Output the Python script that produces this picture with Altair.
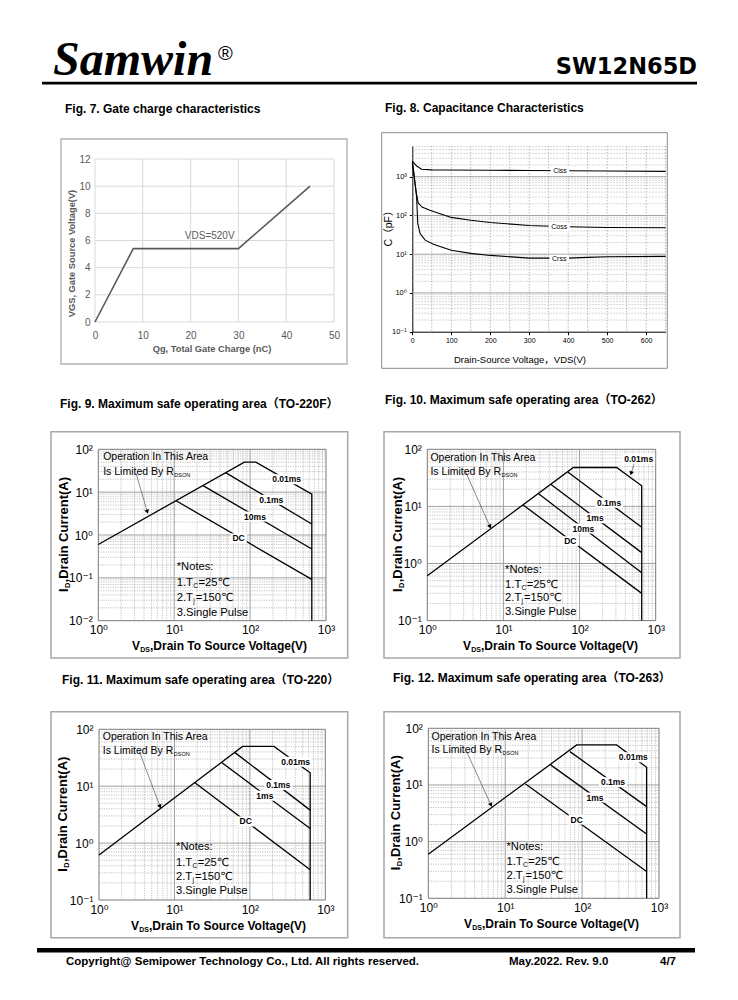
import math
import altair as alt
import pandas as pd

# ================= values =================
# Fig. 7  gate charge
f7_qg = [0, 8, 30, 45]
f7_vgs = [0, 5.4, 5.4, 10]
f7_note = ["VDS=520V"]
f7_note_q = [24]
f7_note_v = [6.3]

# Fig. 8  capacitance
f8_ciss_v = [0, 5, 11, 24, 50, 88, 200, 300, 400, 500, 650]
f8_ciss_c = [2500, 2200, 1890, 1550, 1500, 1490, 1470, 1450, 1430, 1400, 1370]
f8_coss_v = [0, 3, 6, 10, 15, 25, 45, 100, 150, 200, 300, 400, 500, 650]
f8_coss_c = [2500, 1500, 800, 400, 210, 165, 137, 89, 75, 66, 55, 51, 49, 48]
f8_crss_v = [0, 4, 7, 11, 14, 20, 33, 54, 100, 150, 200, 300, 400, 450, 500, 650]
f8_crss_c = [2200, 1200, 670, 305, 62, 34, 23, 18, 12.7, 10.5, 9.3, 7.9, 7.9, 8.3, 8.6, 8.8]
f8_lab = ["Ciss", "Coss", "Crss"]
f8_lab_v = [379, 377, 377]
f8_lab_c = [1430, 50, 7.6]

# Fig. 9  SOA TO-220F
f9_001_v, f9_001_i = [1, 84, 119, 650, 650], [0.6, 50, 50, 9.0, 0.01]
f9_01_v, f9_01_i = [47.6, 650], [28.5, 1.8]
f9_10_v, f9_10_i = [24, 650], [14.2, 0.47]
f9_dc_v, f9_dc_i = [10.6, 650], [6.3, 0.092]
f9_lab = ["0.01ms", "0.1ms", "10ms", "DC"]
f9_lab_v = [303, 190, 116, 70.6]
f9_lab_i = [20, 6.6, 2.7, 0.83]
f9_arr_v, f9_arr_i = [3.14, 4.42], [27.5, 3.5]
f9_op_v, f9_op_i = 1.16, [65, 30]
f9_note_v, f9_note_i = 10.8, [0.176, 0.0745, 0.033, 0.0154]

# Fig. 10  SOA TO-262
f10_001_v, f10_001_i = [1, 83, 307, 655, 655], [0.61, 48, 48, 23, 0.1]
f10_01_v, f10_01_i = [70, 655], [40, 4.3]
f10_1_v, f10_1_i = [41.8, 655], [24.4, 1.55]
f10_10_v, f10_10_i = [28.7, 655], [16.8, 0.69]
f10_dc_v, f10_dc_i = [18.3, 655], [10.5, 0.30]
f10_lab = ["0.01ms", "0.1ms", "1ms", "10ms", "DC"]
f10_lab_v = [598, 244, 160, 112, 75.7]
f10_lab_i = [66.8, 11.6, 6.2, 4.1, 2.45]
f10_arr_v, f10_arr_i = [3.13, 6.66], [42.3, 4.43]
f10_arr2_v, f10_arr2_i = [525, 475], [56.9, 38]
f10_op_v, f10_op_i = 1.1, [69.5, 39.5]
f10_note_v, f10_note_i = 10.5, [0.77, 0.42, 0.246, 0.14]

# Fig. 11  SOA TO-220
f11_001_v, f11_001_i = [1, 80, 209, 630, 630], [0.62, 50, 50, 17.2, 0.1]
f11_01_v, f11_01_i = [63.5, 630], [38.9, 3.8]
f11_1_v, f11_1_i = [42.3, 630], [26, 1.8]
f11_dc_v, f11_dc_i = [18.7, 630], [11.5, 0.34]
f11_lab = ["0.01ms", "0.1ms", "1ms", "DC"]
f11_lab_v = [405, 238, 158, 88]
f11_lab_i = [27, 10.5, 6.8, 2.4]
f11_arr_v, f11_arr_i = [3.43, 6.44], [40.5, 4.4]
f11_op_v, f11_op_i = 1.12, [72, 41.6]
f11_note_v, f11_note_i = 10.5, [0.87, 0.44, 0.25, 0.144]

# Fig. 12  SOA TO-263
f12_001_v, f12_001_i = [1, 85, 281, 690, 690], [0.6, 50.8, 50.8, 20.5, 0.1]
f12_01_v, f12_01_i = [69.5, 690], [38.8, 4.15]
f12_1_v, f12_1_i = [39, 690], [22.6, 1.36]
f12_dc_v, f12_dc_i = [18.4, 690], [10.4, 0.296]
f12_lab = ["0.01ms", "0.1ms", "1ms", "DC"]
f12_lab_v = [463, 252, 147, 85]
f12_lab_i = [30.8, 11.2, 6.0, 2.45]
f12_arr_v, f12_arr_i = [3.15, 6.53], [38.8, 4.44]
f12_op_v, f12_op_i = 1.1, [71, 41.5]
f12_note_v, f12_note_i = 10.4, [0.82, 0.44, 0.25, 0.14]

# ================= layout helpers =================
M = 8
CW, CH = 361, 328          # grid cell size (2 columns x 3 rows = 722 x 984)
SANS = "Liberation Sans, Arial, DejaVu Sans, Noto Sans CJK SC"
NARROW = "Liberation Sans Narrow, Liberation Sans, Arial"
SERIF = "Liberation Serif, Times New Roman, DejaVu Serif"
ONE = pd.DataFrame({"o": [0]})
SUP = ("datum.value >= 500 ? '10³' : datum.value >= 50 ? '10²' : "
       "datum.value >= 5 ? '10¹' : datum.value >= 0.5 ? '10⁰' : "
       "datum.value >= 0.05 ? '10⁻¹' : '10⁻²'")
CHAR_W = {"0": .556, "1": .556, ".": .278, "m": .889, "s": .556, "D": .722, "C": .722,
          "i": .25, "o": .6, "r": .39}


def text_w(t, fs):
    return sum(CHAR_W.get(ch, .56) for ch in t) * fs


def cell(r, c):
    return (M + CW * c, M + CH * r)


def vx(C, x):
    return alt.value(x - C[0])


def vy(C, y):
    return alt.value(y - C[1])


def frame(C, l, t, r, b, color, sw):
    return alt.Chart(ONE).mark_rect(fill="white", fillOpacity=0, stroke=color, strokeWidth=sw).encode(
        x=vx(C, l), x2=vx(C, r), y=vy(C, t), y2=vy(C, b))


def ptext(C, x, y, text, **kw):
    return alt.Chart(ONE).mark_text(text=text, **kw).encode(x=vx(C, x), y=vy(C, y))


def prule(C, x1, x2, y, **kw):
    return alt.Chart(ONE).mark_rule(**kw).encode(x=vx(C, x1), x2=vx(C, x2), y=vy(C, y))


def dtext(X, Y, v, i, text, **kw):
    return alt.Chart(pd.DataFrame({"v": [v], "i": [i]})).mark_text(text=text, **kw).encode(x=X, y=Y)


def label_boxes(X, Y, labs, vs, cs, fs, h):
    # white boxes that break the curves behind the curve labels
    out = []
    for t, v, c in zip(labs, vs, cs):
        a = (text_w(t, fs) + 4) / h
        path = f"M{-a:.3f},-1H{a:.3f}V1H{-a:.3f}Z"
        out.append(alt.Chart(pd.DataFrame({"v": [v], "i": [c]})).mark_point(
            shape=path, size=h * h, filled=True, color="white", opacity=1).encode(x=X, y=Y))
    return out


def series_df(pairs):
    rows = []
    for name, vs, cs in pairs:
        for k, (a, b) in enumerate(zip(vs, cs)):
            rows.append({"s": name, "k": k, "v": a, "i": b})
    return pd.DataFrame(rows)


def minor_vals(lo, hi):
    out = []
    for k in range(-3, 4):
        for m in range(2, 10):
            val = m * 10.0 ** k
            if lo * 1.0001 < val < hi * 0.9999:
                out.append(val)
    return out


def decade_vals(lo, hi):
    return [10.0 ** k for k in range(-3, 5) if lo * 1.0001 < 10.0 ** k < hi * 0.9999]


def ranges(C, P):
    rx = [P[0] - C[0], P[0] + P[2] - C[0]]
    ry = [P[1] + P[3] - C[1], P[1] - C[1]]
    return rx, ry


def vgrid(X, vals, ry, **kw):
    return alt.Chart(pd.DataFrame({"v": vals})).mark_rule(**kw).encode(
        x=X, y=alt.value(ry[1]), y2=alt.value(ry[0]))


def hgrid(Y, vals, rx, **kw):
    return alt.Chart(pd.DataFrame({"i": vals})).mark_rule(**kw).encode(
        y=Y, x=alt.value(rx[0]), x2=alt.value(rx[1]))


# ================= Fig. 7 (+ page header) =================
C7 = cell(0, 0)
P7 = (95, 159, 239, 163)
rx7, ry7 = ranges(C7, P7)
ax7 = dict(title=None, grid=False, domain=False, ticks=False, tickSize=0,
           labelFont=NARROW, labelFontSize=10, labelColor="#595959", labelFlush=False, labelOverlap=False)
X7 = alt.X("v:Q", scale=alt.Scale(domain=[0, 50], nice=False, range=rx7),
           axis=alt.Axis(values=[0, 10, 20, 30, 40, 50], labelPadding=8, offset=ry7[0] - CH, **ax7))
Y7 = alt.Y("i:Q", scale=alt.Scale(domain=[0, 12], nice=False, range=ry7),
           axis=alt.Axis(values=[0, 2, 4, 6, 8, 10, 12], labelPadding=5, offset=-rx7[0], **ax7))
fig7 = alt.layer(
    # page header
    ptext(C7, 53, 75, "Samwin", font=SERIF, fontSize=48, fontWeight="bold", fontStyle="italic",
          align="left", baseline="alphabetic"),
    ptext(C7, 218, 60, "®", font=SANS, fontSize=20, align="left", baseline="alphabetic"),
    ptext(C7, 697, 73.5, "SW12N65D", font="DejaVu Sans, Liberation Sans", fontSize=22.5, fontWeight="bold",
          align="right", baseline="alphabetic"),
    prule(C7, 42, 697, 83.2, color="black", strokeWidth=2.7),
    # figure
    frame(C7, 61, 139, 347, 364, "#c4c4c4", 1.8),
    vgrid(X7, [0, 10, 20, 30, 40, 50], ry7, color="#d9d9d9", strokeWidth=1),
    hgrid(Y7, [0, 2, 4, 6, 8, 10, 12], rx7, color="#d9d9d9", strokeWidth=1),
    alt.Chart(pd.DataFrame({"v": f7_qg, "i": f7_vgs})).mark_line(color="#595959", strokeWidth=1.6).encode(x=X7, y=Y7),
    alt.Chart(pd.DataFrame({"v": f7_note_q, "i": f7_note_v, "t": f7_note})).mark_text(
        font=NARROW, fontSize=10, color="#595959").encode(x=X7, y=Y7, text="t:N"),
    ptext(C7, 65, 109, "Fig. 7. Gate charge characteristics", font=SANS, fontSize=12, fontWeight="bold", align="left"),
    ptext(C7, 71.7, 253.5, "VGS, Gate Source Voltage(V)", font=SANS, fontSize=9.3, fontWeight="bold",
          color="#595959", angle=270),
    ptext(C7, 212, 349, "Qg, Total Gate Charge (nC)", font=SANS, fontSize=9.3, fontWeight="bold", color="#595959"),
).properties(width=CW, height=CH)

# ================= Fig. 8 =================
C8 = cell(0, 1)
P8 = (412.3, 146, 253.3, 185.7)
rx8, ry8 = ranges(C8, P8)
Y8DOM = [0.1, 6200]
X8 = alt.X("v:Q", scale=alt.Scale(domain=[0, 650], nice=False, zero=False, range=rx8),
           axis=alt.Axis(values=[0, 100, 200, 300, 400, 500, 600], title=None, grid=False, tickSize=3,
                         labelPadding=2, labelFont=SANS, labelFontSize=7, labelColor="black",
                         domainColor="black", tickColor="black", labelFlush=False, labelOverlap=False,
                         offset=ry8[0] - CH))
Y8 = alt.Y("i:Q", scale=alt.Scale(type="log", domain=Y8DOM, nice=False, range=ry8),
           axis=alt.Axis(values=[0.1, 1, 10, 100, 1000], labelExpr=SUP, title=None, grid=False, tickSize=3,
                         labelPadding=3, labelFont=SANS, labelFontSize=7.5, labelColor="black",
                         domainColor="black", tickColor="black", labelFlush=False, labelOverlap=False,
                         offset=-rx8[0]))
f8_curves = series_df([("Ciss", f8_ciss_v, f8_ciss_c), ("Coss", f8_coss_v, f8_coss_c),
                       ("Crss", f8_crss_v, f8_crss_c)])
f8_labdf = pd.DataFrame({"v": f8_lab_v, "i": f8_lab_c, "t": f8_lab})
fig8 = alt.layer(
    frame(C8, 381.7, 132.7, 667.3, 368.3, "#8a8a8a", 1),
    vgrid(X8, list(range(50, 651, 50)), ry8, color="#9a9a9a", strokeWidth=0.7, strokeDash=[1.5, 1.5]),
    hgrid(Y8, minor_vals(*Y8DOM), rx8, color="#a8a8a8", strokeWidth=0.6, strokeDash=[1.5, 1.5]),
    hgrid(Y8, decade_vals(*Y8DOM), rx8, color="#a0a0a0", strokeWidth=1),
    alt.Chart(f8_curves).mark_line(color="black", strokeWidth=1.1).encode(
        x=X8, y=Y8, detail="s:N", order="k:Q"),
    *label_boxes(X8, Y8, f8_lab, f8_lab_v, f8_lab_c, 7, 8),
    alt.Chart(f8_labdf).mark_text(font=SANS, fontSize=7, color="black").encode(x=X8, y=Y8, text="t:N"),
    ptext(C8, 385, 108, "Fig. 8. Capacitance Characteristics", font=SANS, fontSize=12, fontWeight="bold",
          align="left"),
    ptext(C8, 389.3, 226, "C（pF）", font=SANS, fontSize=10.5, angle=270),
    ptext(C8, 520, 360, "Drain-Source Voltage，VDS(V)", font=SANS, fontSize=9.5),
).properties(width=CW, height=CH)


# ================= SOA figures =================
def arrow_angle(P, ydom, v1, i1, v2, i2):
    pdx = P[2] / 3.0
    pdy = P[3] / (math.log10(ydom[1]) - math.log10(ydom[0]))
    dx = (math.log10(v2) - math.log10(v1)) * pdx
    dy = (math.log10(i1) - math.log10(i2)) * pdy
    return (-math.degrees(math.atan2(dx, dy))) % 360


def soa_fig(C, P, ydom, series, labels, op, arrows, notes, fr, title, title_xy, xt_cx, yt_x, extra=()):
    FS = 10.5
    FN = 11.2
    rx, ry = ranges(C, P)
    X = alt.X("v:Q", scale=alt.Scale(type="log", domain=[1, 1000], nice=False, range=rx),
              axis=alt.Axis(values=[1, 10, 100, 1000], labelExpr=SUP, title=None, grid=False, domain=False,
                            ticks=False, tickSize=0, labelPadding=4, labelFont=SANS, labelFontSize=12,
                            labelColor="black", labelFlush=False, labelOverlap=False, offset=ry[0] - CH))
    Y = alt.Y("i:Q", scale=alt.Scale(type="log", domain=ydom, nice=False, range=ry),
              axis=alt.Axis(values=[v for v in [0.01, 0.1, 1, 10, 100] if v >= ydom[0]], labelExpr=SUP,
                            title=None, grid=False, domain=False, ticks=False, tickSize=0, labelPadding=6,
                            labelFont=SANS, labelFontSize=12, labelColor="black", labelFlush=False,
                            labelOverlap=False, offset=-rx[0]))
    layers = list(extra) + [
        frame(C, fr[0], fr[1], fr[2], fr[3], "#a8a8a8", 1.5),
        vgrid(X, minor_vals(1, 1000), ry, color="#9a9a9a", strokeWidth=0.6, strokeDash=[1.2, 1.2]),
        hgrid(Y, minor_vals(*ydom), rx, color="#9a9a9a", strokeWidth=0.6, strokeDash=[1.2, 1.2]),
        vgrid(X, decade_vals(1, 1000), ry, color="#a0a0a0", strokeWidth=1),
        hgrid(Y, decade_vals(*ydom), rx, color="#a0a0a0", strokeWidth=1),
        frame(C, P[0], P[1], P[0] + P[2], P[1] + P[3], "#7a7a7a", 1),
        alt.Chart(series_df(series)).mark_line(color="black", strokeWidth=1.3).encode(
            x=X, y=Y, detail="s:N", order="k:Q"),
    ]
    for av, ai in arrows:
        layers.append(alt.Chart(pd.DataFrame({"v": av, "i": ai, "k": [0, 1]})).mark_line(
            color="#555555", strokeWidth=0.7).encode(x=X, y=Y, order="k:Q"))
        ang = arrow_angle(P, ydom, av[0], ai[0], av[1], ai[1])
        layers.append(alt.Chart(pd.DataFrame({"v": [av[1]], "i": [ai[1]]})).mark_point(
            shape="triangle-down", filled=True, size=22, color="black", opacity=1, angle=ang).encode(x=X, y=Y))
    labdf = pd.DataFrame({"v": labels[1], "i": labels[2], "t": labels[0]})
    layers += label_boxes(X, Y, labels[0], labels[1], labels[2], 8.5, 10)
    layers.append(alt.Chart(labdf).mark_text(font=SANS, fontSize=8.5, fontWeight="bold",
                                             color="black").encode(x=X, y=Y, text="t:N"))
    ov, oi = op
    tk = dict(font=SANS, fontSize=FS, align="left", color="black")
    layers.append(dtext(X, Y, ov, oi[0], "Operation In This Area", **tk))
    layers.append(dtext(X, Y, ov, oi[1], "Is Limited By R", **tk))
    layers.append(dtext(X, Y, ov, oi[1], "DSON", font=SANS, fontSize=5.5, align="left", dx=6.724 * FS + 0.5, dy=3))
    nv, ni = notes
    tn = dict(font=SANS, fontSize=FN, align="left", color="black")
    layers.append(dtext(X, Y, nv, ni[0], "*Notes:", **tn))
    layers.append(dtext(X, Y, nv, ni[1], "1.T", **tn))
    layers.append(dtext(X, Y, nv, ni[1], "C", font=SANS, fontSize=6.8, align="left", dx=1.445 * FN + 0.3, dy=3))
    layers.append(dtext(X, Y, nv, ni[1], "=25℃", dx=1.445 * FN + 5.5, **tn))
    layers.append(dtext(X, Y, nv, ni[2], "2.T", **tn))
    layers.append(dtext(X, Y, nv, ni[2], "j", font=SANS, fontSize=6.8, align="left", dx=1.445 * FN + 0.3, dy=3))
    layers.append(dtext(X, Y, nv, ni[2], "=150℃", dx=1.445 * FN + 2.8, **tn))
    layers.append(dtext(X, Y, nv, ni[3], "3.Single Pulse", **tn))
    layers.append(ptext(C, title_xy[0], title_xy[1], title, font=SANS, fontSize=12, fontWeight="bold", align="left"))
    xs = xt_cx - 82
    xb = P[1] + P[3] + 29.5
    bt = dict(font=SANS, fontWeight="bold", align="left", baseline="alphabetic")
    layers.append(ptext(C, xs, xb, "V", fontSize=12, **bt))
    layers.append(ptext(C, xs + 8.2, xb + 2, "DS", fontSize=7, **bt))
    layers.append(ptext(C, xs + 18, xb, ",Drain To Source Voltage(V)", fontSize=12, **bt))
    yc = P[1] + P[3] / 2
    ys = yc + 57
    layers.append(ptext(C, yt_x, ys, "I", fontSize=13, angle=270, **bt))
    layers.append(alt.Chart(ONE).mark_text(text="D", fontSize=7.5, angle=270, dx=4, dy=2, **bt).encode(
        x=vx(C, yt_x), y=vy(C, ys)))
    layers.append(alt.Chart(ONE).mark_text(text=",Drain Current(A)", fontSize=13, angle=270, dx=9.6, **bt).encode(
        x=vx(C, yt_x), y=vy(C, ys)))
    return alt.layer(*layers).properties(width=CW, height=CH)


fig9 = soa_fig(cell(1, 0), (98.3, 449.3, 227.7, 171.4), [0.01, 100],
               [("0.01ms", f9_001_v, f9_001_i), ("0.1ms", f9_01_v, f9_01_i),
                ("10ms", f9_10_v, f9_10_i), ("DC", f9_dc_v, f9_dc_i)],
               (f9_lab, f9_lab_v, f9_lab_i), (f9_op_v, f9_op_i), [(f9_arr_v, f9_arr_i)],
               (f9_note_v, f9_note_i), (51, 431.7, 347.7, 658),
               "Fig. 9. Maximum safe operating area（TO-220F）", (60, 404), 214, 67.6)

fig10 = soa_fig(cell(1, 1), (427.3, 449.3, 228.4, 171.3), [0.1, 100],
                [("0.01ms", f10_001_v, f10_001_i), ("0.1ms", f10_01_v, f10_01_i),
                 ("1ms", f10_1_v, f10_1_i), ("10ms", f10_10_v, f10_10_i), ("DC", f10_dc_v, f10_dc_i)],
                (f10_lab, f10_lab_v, f10_lab_i), (f10_op_v, f10_op_i),
                [(f10_arr_v, f10_arr_i), (f10_arr2_v, f10_arr2_i)],
                (f10_note_v, f10_note_i), (384, 431.7, 680, 658),
                "Fig. 10. Maximum safe operating area（TO-262）", (385, 400), 545, 401.6)

C11 = cell(2, 0)
footer = [
    prule(C11, 37, 695, 950.3, color="black", strokeWidth=4.5),
    ptext(C11, 66, 965, "Copyright@ Semipower Technology Co., Ltd. All rights reserved.", font=SANS,
          fontSize=11.5, fontWeight="bold", align="left", baseline="alphabetic"),
    ptext(C11, 509, 965, "May.2022. Rev. 9.0", font=NARROW, fontSize=11.5, fontWeight="bold",
          align="left", baseline="alphabetic"),
    ptext(C11, 660, 965, "4/7", font=NARROW, fontSize=11.5, fontWeight="bold",
          align="left", baseline="alphabetic"),
]
fig11 = soa_fig(C11, (99, 729.3, 226.3, 170.7), [0.1, 100],
                [("0.01ms", f11_001_v, f11_001_i), ("0.1ms", f11_01_v, f11_01_i),
                 ("1ms", f11_1_v, f11_1_i), ("DC", f11_dc_v, f11_dc_i)],
                (f11_lab, f11_lab_v, f11_lab_i), (f11_op_v, f11_op_i), [(f11_arr_v, f11_arr_i)],
                (f11_note_v, f11_note_i), (51, 711.7, 347.7, 937.7),
                "Fig. 11. Maximum safe operating area（TO-220）", (62, 680), 213, 67.3, extra=footer)

fig12 = soa_fig(cell(2, 1), (428.3, 728.3, 230.7, 170), [0.1, 100],
                [("0.01ms", f12_001_v, f12_001_i), ("0.1ms", f12_01_v, f12_01_i),
                 ("1ms", f12_1_v, f12_1_i), ("DC", f12_dc_v, f12_dc_i)],
                (f12_lab, f12_lab_v, f12_lab_i), (f12_op_v, f12_op_i), [(f12_arr_v, f12_arr_i)],
                (f12_note_v, f12_note_i), (384, 711.7, 680, 937.7),
                "Fig. 12. Maximum safe operating area（TO-263）", (393, 678), 546, 399.6)

chart = alt.concat(fig7, fig8, fig9, fig10, fig11, fig12, columns=2, spacing=0, bounds="flush",
                   align="all").properties(padding=0, background="white").configure_view(stroke=None)

chart.save("out.html", embed_options={"renderer": "svg", "actions": False})
